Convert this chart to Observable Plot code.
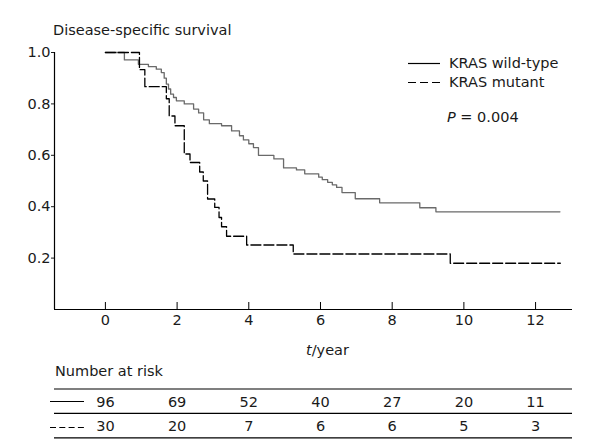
<!DOCTYPE html>
<html>
<head>
<meta charset="utf-8">
<script src="https://cdn.jsdelivr.net/npm/d3@7"></script>
<script src="https://cdn.jsdelivr.net/npm/@observablehq/plot@0.6"></script>
<style>
  html, body { margin: 0; padding: 0; background: #fff; }
  #wrap { position: relative; width: 600px; height: 445px; font-family: "DejaVu Sans", sans-serif; color: #1a1a1a; overflow: hidden; }
  .lbl { position: absolute; font-size: 14.5px; line-height: 14.5px; white-space: nowrap; }
  #p1, #p2 { position: absolute; left: 0; }
  #p1 { top: 0; }
  #p2 { top: 360px; }
  #deco { position: absolute; left: 0; top: 0; pointer-events: none; }
</style>
</head>
<body>
<div id="wrap">
  <div id="p1"></div>
  <div id="p2"></div>
  <div class="lbl" style="left:53px; top:23px;">Disease-specific survival</div>
  <div class="lbl" style="left:449px; top:56px;">KRAS wild-type</div>
  <div class="lbl" style="left:449px; top:75px;">KRAS mutant</div>
  <div class="lbl" style="left:447px; top:110px;"><i>P</i> = 0.004</div>
  <div class="lbl" style="left:306px; top:343px;"><i>t</i>/year</div>
  <div class="lbl" style="left:55px; top:364px;">Number at risk</div>
  <svg id="deco" width="600" height="445">
    <line x1="408" x2="440" y1="63.5" y2="63.5" stroke="#000" stroke-width="1.2"/>
    <line x1="408" x2="440" y1="82.5" y2="82.5" stroke="#000" stroke-width="1.2" stroke-dasharray="8,4"/>
    <line x1="50" x2="84" y1="401.5" y2="401.5" stroke="#000" stroke-width="1.2"/>
    <line x1="50" x2="84" y1="427.5" y2="427.5" stroke="#000" stroke-width="1.2" stroke-dasharray="6,3.3"/>
  </svg>
</div>
<script>
// ---- data ----
const wtTime = [0, 0.53, 0.92, 1.2, 1.42, 1.56, 1.64, 1.70, 1.76, 1.82, 1.9, 1.98, 2.2, 2.46, 2.6, 2.74, 2.9, 3.24, 3.52, 3.74, 3.85, 4.0, 4.13, 4.27, 4.7, 4.97, 5.33, 5.56, 5.95, 6.05, 6.2, 6.33, 6.45, 6.6, 6.97, 7.65, 8.77, 9.22, 12.68];
const wtSurv = [1.0, 0.971, 0.954, 0.945, 0.935, 0.922, 0.90, 0.877, 0.858, 0.838, 0.825, 0.812, 0.80, 0.78, 0.765, 0.738, 0.723, 0.715, 0.695, 0.676, 0.66, 0.645, 0.63, 0.60, 0.586, 0.551, 0.543, 0.528, 0.515, 0.505, 0.495, 0.485, 0.475, 0.455, 0.431, 0.415, 0.396, 0.38, 0.38];
const mutTime = [0, 0.95, 1.1, 1.70, 1.78, 1.94, 2.2, 2.36, 2.63, 2.73, 2.85, 3.05, 3.17, 3.24, 3.38, 3.94, 5.24, 9.62, 12.69];
const mutSurv = [1.0, 0.933, 0.867, 0.82, 0.753, 0.715, 0.605, 0.572, 0.535, 0.50, 0.43, 0.397, 0.358, 0.322, 0.285, 0.251, 0.216, 0.18, 0.18];

const xTicks = [0, 2, 4, 6, 8, 10, 12];
const yTicks = [0.2, 0.4, 0.6, 0.8, 1.0];
const riskTimes = [0, 2, 4, 6, 8, 10, 12];
const riskWT = [96, 69, 52, 40, 27, 20, 11];
const riskMut = [30, 20, 7, 6, 6, 5, 3];

// ---- layout ----
const xDomain = [-1.42, 13.03];
const W = 600;
const H1 = 340, mT1 = 52, mB1 = 31, mL = 54, mR = 28;
const frameH1 = H1 - mT1 - mB1;

const wt = wtTime.map((t, i) => ({t, s: wtSurv[i]}));
const mut = mutTime.map((t, i) => ({t, s: mutSurv[i]}));

const p1 = Plot.plot({
  width: W, height: H1,
  marginLeft: mL, marginRight: mR, marginTop: mT1, marginBottom: mB1,
  x: {domain: xDomain},
  y: {domain: [0, 1]},
  style: {fontFamily: "DejaVu Sans, sans-serif", fontSize: "14.5px", color: "#1a1a1a", background: "transparent"},
  marks: [
    Plot.ruleY([0], {stroke: "#000", strokeWidth: 1.2}),
    Plot.ruleX([xDomain[0]], {stroke: "#000", strokeWidth: 1.2}),
    Plot.tickX(xTicks, {x: d => d, insetTop: frameH1 - 7, stroke: "#000"}),
    Plot.axisX({ticks: xTicks, tickSize: 0, tickPadding: 5, label: null, fontSize: 14.5}),
    Plot.axisY({ticks: yTicks, tickSize: 3, tickPadding: 1, tickFormat: d3.format(".1f"), label: null, fontSize: 14.5}),
    Plot.line(wt, {x: "t", y: "s", curve: "step-after", stroke: "#6a6a6a", strokeWidth: 1.3}),
    Plot.line(mut, {x: "t", y: "s", curve: "step-after", stroke: "#000", strokeWidth: 1.3, strokeDasharray: "10,3"})
  ]
});
document.getElementById("p1").appendChild(p1);

// ---- number at risk table ----
const rows = [riskWT, riskMut];
const riskData = rows.flatMap((r, ri) => r.map((n, i) => ({t: riskTimes[i], row: ri + 1, n})));
const bounds = d3.range(rows.length + 1).map(i => i + 0.5);

const p2 = Plot.plot({
  width: W, height: 85,
  marginLeft: mL, marginRight: mR, marginTop: 28.5, marginBottom: 7.7,
  x: {domain: xDomain, axis: null},
  y: {domain: [0.5, rows.length + 0.5], reverse: true, axis: null},
  style: {fontFamily: "DejaVu Sans, sans-serif", fontSize: "14.5px", color: "#1a1a1a", background: "transparent"},
  marks: [
    Plot.ruleY(bounds, {stroke: "#000", strokeWidth: 1.2}),
    Plot.text(riskData, {x: "t", y: "row", text: "n", fontSize: 14.5, dy: 1, fill: "#1a1a1a"})
  ]
});
document.getElementById("p2").appendChild(p2);
</script>
</body>
</html>
